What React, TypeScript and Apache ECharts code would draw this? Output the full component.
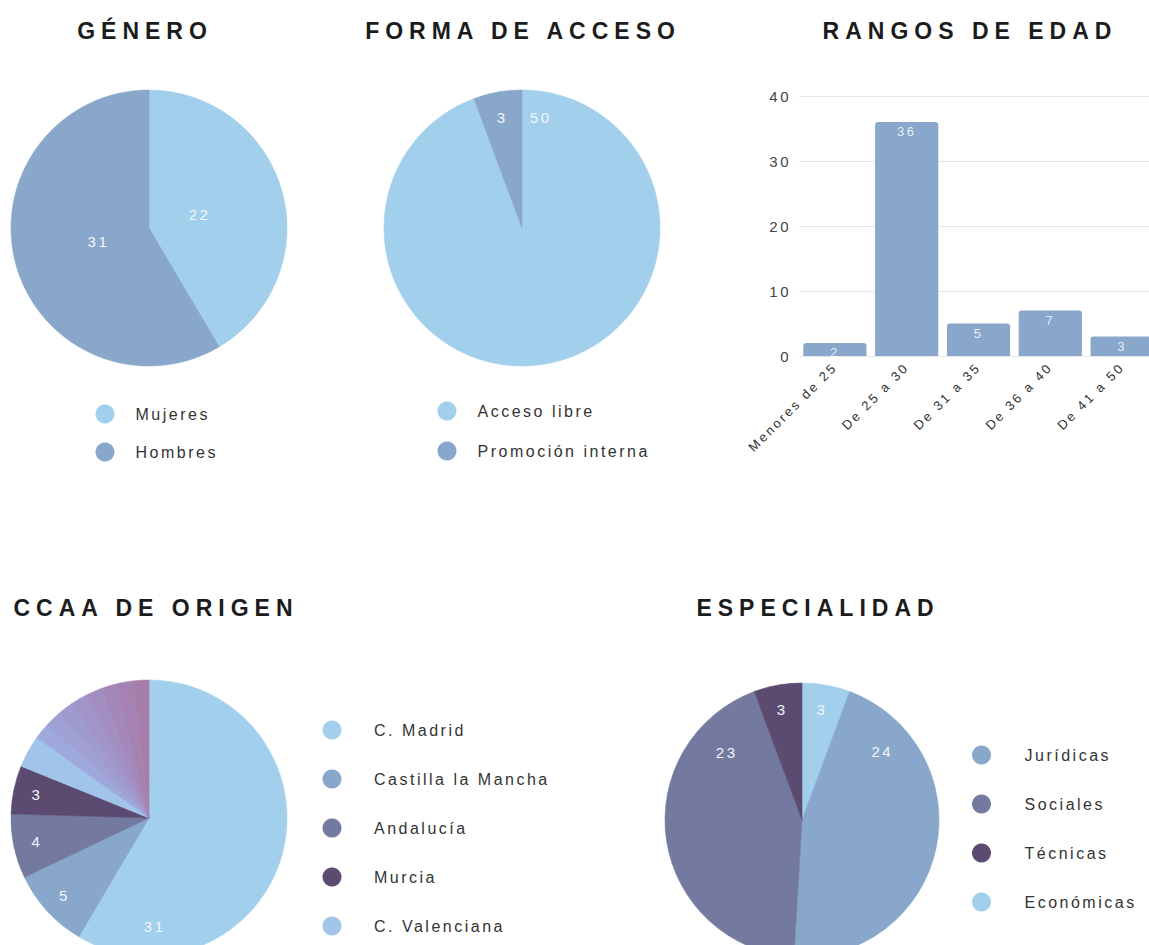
import React, { useEffect, useRef } from 'react';
import * as echarts from 'echarts';

// ---------- DATA ----------
const generoNames = ['Mujeres', 'Hombres'];
const generoValues = [22, 31];

const accesoNames = ['Acceso libre', 'Promoción interna'];
const accesoValues = [50, 3];

const edadCategories = ['Menores de 25', 'De 25 a 30', 'De 31 a 35', 'De 36 a 40', 'De 41 a 50'];
const edadValues = [2, 36, 5, 7, 3];
const edadAxisMax = 40;
const edadAxisStep = 10;

const ccaaNames = [
  'C. Madrid', 'Castilla la Mancha', 'Andalucía', 'Murcia', 'C. Valenciana',
  'Otra CCAA 1', 'Otra CCAA 2', 'Otra CCAA 3', 'Otra CCAA 4',
  'Otra CCAA 5', 'Otra CCAA 6', 'Otra CCAA 7', 'Otra CCAA 8',
];
const ccaaValues = [31, 5, 4, 3, 2, 1, 1, 1, 1, 1, 1, 1, 1];
const ccaaLegendNames = ['C. Madrid', 'Castilla la Mancha', 'Andalucía', 'Murcia', 'C. Valenciana'];

// clockwise from 12 o'clock
const especialidadNames = ['Económicas', 'Jurídicas', 'Sociales', 'Técnicas'];
const especialidadValues = [3, 24, 23, 3];
const especialidadLegendNames = ['Jurídicas', 'Sociales', 'Técnicas', 'Económicas'];

// ---------- STYLE ----------
const FONT = '"Liberation Sans", Arial, sans-serif';
const C_LIGHT = '#a2d0ec';
const C_MID = '#89a6cb';
const C_SLATE = '#73799f';
const C_DARK = '#5c4b71';
const C_PERI = '#a0c4ea';
const generoColors = [C_LIGHT, C_MID];
const accesoColors = [C_LIGHT, C_MID];
const ccaaColors = [C_LIGHT, C_MID, C_SLATE, C_DARK, C_PERI,
  '#9ea8db', '#9fa1d5', '#a09bcf', '#a194c8', '#a38ec1', '#a488ba', '#a582b2', '#a77da9'];
const especialidadColors = [C_LIGHT, C_MID, C_SLATE, C_DARK];

type Pt = { x: number; y: number };
function labelPoints(values: number[], cx: number, cy: number, r: number, frac: number,
  overrides: Record<number, [number, number]> = {}): Pt[] {
  const total = values.reduce((a, b) => a + b, 0);
  let acc = 0;
  return values.map((v, i) => {
    const mid = ((acc + v / 2) / total) * 360;
    acc += v;
    const ov = overrides[i];
    const bearing = ov ? ov[0] : mid;
    const f = ov ? ov[1] : frac;
    const rad = (bearing * Math.PI) / 180;
    return { x: cx + Math.sin(rad) * r * f, y: cy - Math.cos(rad) * r * f };
  });
}

function pieSeries(names: string[], values: number[], colors: string[], cx: number, cy: number, r: number, pts: Pt[]) {
  return {
    type: 'pie',
    center: [cx, cy],
    radius: r,
    startAngle: 90,
    clockwise: true,
    silent: true,
    avoidLabelOverlap: false,
    data: names.map((n, i) => ({
      name: n,
      value: values[i],
      itemStyle: { color: colors[i], borderColor: colors[i], borderWidth: 0.6 },
    })),
    label: {
      show: true,
      position: 'inside',
      color: '#f3f6fa',
      fontSize: 15,
      fontFamily: FONT,
      formatter: (p: any) => (p.value >= 3 ? String(p.value) : ''),
    },
    labelLine: { show: false },
    labelLayout: (p: any) => ({
      x: pts[p.dataIndex].x,
      y: pts[p.dataIndex].y,
      align: 'center',
      verticalAlign: 'middle',
    }),
  };
}

function legend(names: string[], left: number, top: number, itemWidth: number, itemGap: number) {
  return {
    orient: 'vertical',
    left,
    top,
    padding: 0,
    itemWidth,
    itemHeight: 19,
    itemGap,
    icon: 'circle',
    selectedMode: false,
    data: names,
    itemStyle: { borderWidth: 0 },
    textStyle: { fontSize: 16, color: '#333333', fontFamily: FONT },
  };
}

export default function App() {
  const ref = useRef<HTMLDivElement>(null);

  useEffect(() => {
    if (!ref.current) return;
    const chart = echarts.init(ref.current, null, { renderer: 'svg' });

    const gPts = labelPoints(generoValues, 149, 228, 138, 0.38);
    const aPts = labelPoints(accesoValues, 522, 228, 138, 0.81, { 0: [9.6, 0.81] });
    const cPts = labelPoints(ccaaValues, 149, 818, 138, 0.83, { 0: [177, 0.79] });
    const ePts = labelPoints(especialidadValues, 802, 820, 137, 0.82, { 1: [49.6, 0.77], 2: [312, 0.74] });

    const titleStyle = (text: string, x: number, y: number) => ({
      type: 'text',
      x,
      y,
      silent: true,
      style: {
        text,
        fill: '#1c1c1c',
        font: `bold 23px ${FONT}`,
        textAlign: 'center',
        textVerticalAlign: 'middle',
      },
    });

    const option: any = {
      animation: false,
      backgroundColor: '#ffffff',
      textStyle: { fontFamily: FONT },
      graphic: [
        titleStyle('GÉNERO', 145, 31),
        titleStyle('FORMA DE ACCESO', 523, 31),
        titleStyle('RANGOS DE EDAD', 970, 31),
        titleStyle('CCAA DE ORIGEN', 156, 608),
        titleStyle('ESPECIALIDAD', 818, 608),
      ],
      legend: [
        legend(generoNames, 95.5, 404.5, 51, 19),
        legend(accesoNames, 437.5, 401.5, 51, 21),
        legend(ccaaLegendNames, 322.5, 720.5, 74, 30),
        legend(especialidadLegendNames, 972, 745.5, 76, 30),
      ],
      grid: {
        left: 799,
        top: 96,
        width: 359,
        height: 260,
        containLabel: false,
        outerBoundsMode: 'none',
      },
      xAxis: {
        type: 'category',
        data: edadCategories,
        axisLine: { show: false },
        axisTick: { show: false },
        axisLabel: {
          rotate: 45,
          interval: 0,
          fontSize: 13,
          color: '#333333',
          margin: 9,
          fontFamily: FONT,
        },
      },
      yAxis: {
        type: 'value',
        min: 0,
        max: edadAxisMax,
        interval: edadAxisStep,
        axisLine: { show: false },
        axisTick: { show: false },
        splitLine: { lineStyle: { color: '#e6e6e6', width: 1 } },
        axisLabel: { fontSize: 15, color: '#444444', margin: 8, fontFamily: FONT },
      },
      series: [
        pieSeries(generoNames, generoValues, generoColors, 149, 228, 138, gPts),
        pieSeries(accesoNames, accesoValues, accesoColors, 522, 228, 138, aPts),
        pieSeries(ccaaNames, ccaaValues, ccaaColors, 149, 818, 138, cPts),
        pieSeries(especialidadNames, especialidadValues, especialidadColors, 802, 820, 137, ePts),
        {
          type: 'bar',
          data: edadValues,
          barCategoryGap: '12%',
          silent: true,
          itemStyle: { color: C_MID, borderRadius: [3, 3, 0, 0] },
          label: {
            show: true,
            position: 'insideTop',
            distance: 3,
            color: 'rgba(255,255,255,0.82)',
            fontSize: 13,
            fontFamily: FONT,
          },
        },
      ],
    };

    chart.setOption(option);
    return () => chart.dispose();
  }, []);

  return (
    <>
      <style>{`
        .chart-wrap text { letter-spacing: 2.5px; }
        .chart-wrap text[style*="bold"] { letter-spacing: 6px; }
      `}</style>
      <div
        ref={ref}
        className="chart-wrap"
        style={{ position: 'absolute', left: 0, top: 0, width: 1149, height: 945, background: '#fff' }}
      />
    </>
  );
}
